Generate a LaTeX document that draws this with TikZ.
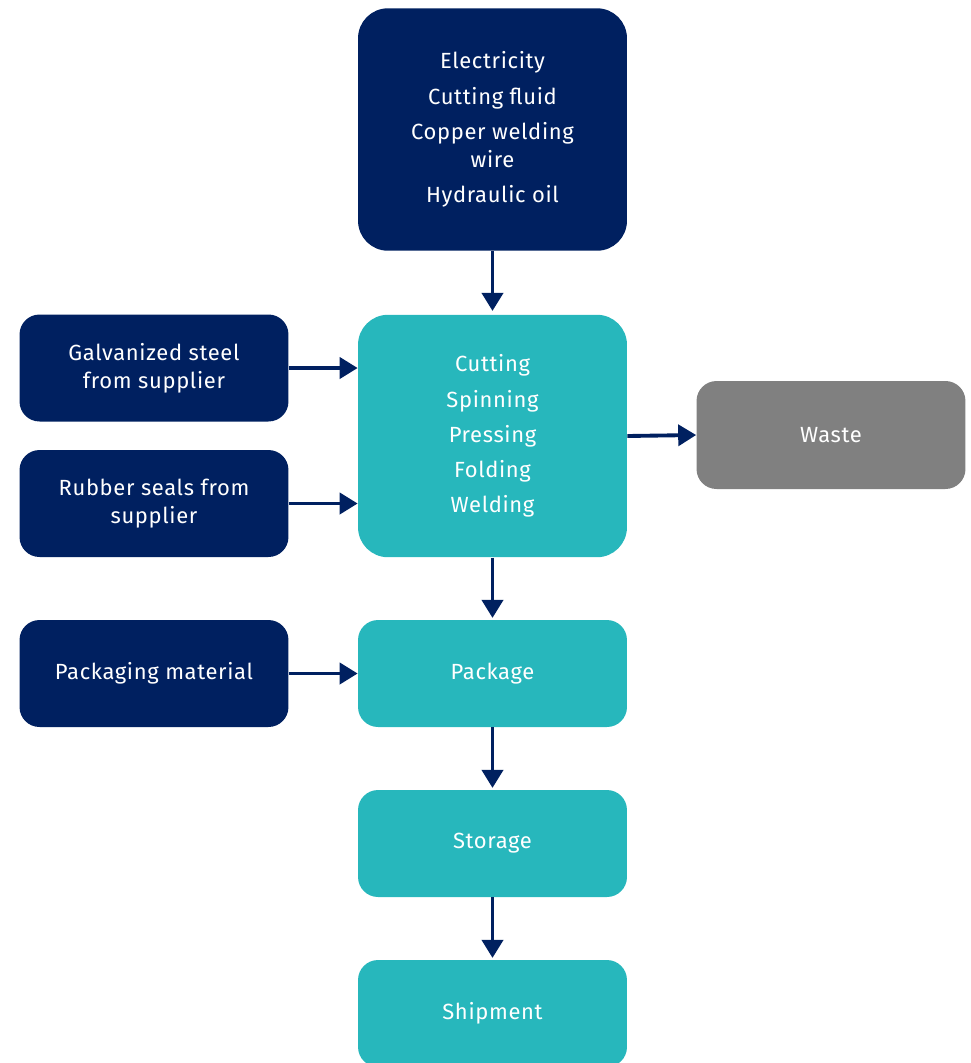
\documentclass[tikz,border=0pt]{standalone}
\usepackage{fontspec}
\setmainfont[LetterSpace=3]{Fira Sans}
\usetikzlibrary{arrows.meta}

\definecolor{navy}{HTML}{002060}
\definecolor{teal}{HTML}{27B7BC}
\definecolor{wastegray}{HTML}{808080}

\tikzset{
  box/.style={rounded corners=0.4cm, text=white, align=center,
    minimum width=5.38cm, minimum height=2.14cm, inner sep=0pt,
    font=\fontsize{12.5}{16}\selectfont},
  tallbox/.style={box, rounded corners=0.6cm, minimum height=4.85cm},
  input/.style={fill=navy},
  stage/.style={fill=teal},
  flow/.style={draw=navy, line width=2.2pt,
    -{Triangle[length=0.36cm, width=0.42cm]}}
}

\begin{document}
\begin{tikzpicture}[x=0.02cm, y=-0.02cm]
  \useasboundingbox (0,0) rectangle (971,1063);

  % inputs
  \node[tallbox, input] (res) at (492.5,129.5)
    {Electricity\\[4pt]Cutting fluid\\[4pt]Copper welding\\wire\\[4pt]Hydraulic oil};
  \node[box, input] (steel) at (154,368) {Galvanized steel\\from supplier};
  \node[box, input] (seals) at (154,503.5) {Rubber seals from\\supplier};
  \node[box, input] (packmat) at (154,673.5) {Packaging material};

  % process chain
  \node[tallbox, stage] (proc) at (492.5,436)
    {Cutting\\[4pt]Spinning\\[4pt]Pressing\\[4pt]Folding\\[4pt]Welding};
  \node[box, stage] (pack) at (492.5,673.5) {Package};
  \node[box, stage] (store) at (492.5,843.5) {Storage};
  \node[box, stage] (ship) at (492.5,1013.5) {Shipment};
  \node[box, fill=wastegray, minimum height=2.16cm] (waste) at (831,435) {Waste};

  % connectors
  \draw[flow, shorten >=2pt] (res) -- (proc);
  \draw[flow] (steel.east) -- (steel.east -| proc.west);
  \draw[flow] (seals.east) -- (seals.east -| proc.west);
  \draw[flow] (proc.east) -- (waste.west);
  \draw[flow, shorten >=1pt] (proc) -- (pack);
  \draw[flow] (packmat) -- (pack);
  \draw[flow, shorten >=1pt] (pack) -- (store);
  \draw[flow, shorten >=1pt] (store) -- (ship);
\end{tikzpicture}
\end{document}
